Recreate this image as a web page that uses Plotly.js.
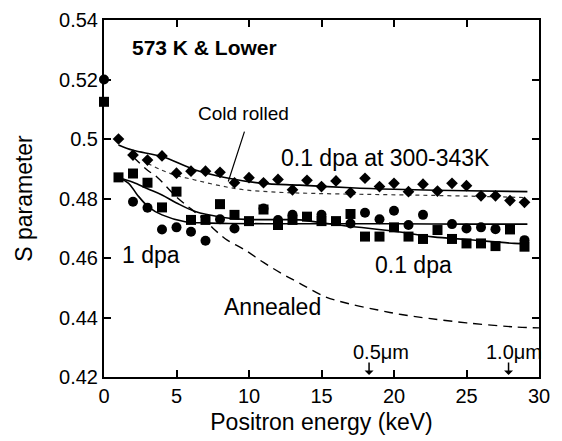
<!DOCTYPE html>
<html>
<head>
<meta charset="utf-8">
<script src="https://cdn.plot.ly/plotly-3.0.1.min.js"></script>
<style>html,body{margin:0;padding:0;background:#fff;}#chart{width:562px;height:441px;}</style>
</head>
<body>
<div id="chart"></div>
<script>
// Diamonds: 0.1 dpa at 300-343K
const diaX = [1,2,3,4,5,6,7,8,9,10,11,12,13,14,15,16,17,18,19,20,21,22,23,24,25,26,27,28,29];
const diaY = [0.500,0.4946,0.4929,0.4943,0.4885,0.4892,0.4892,0.4888,0.4853,0.4870,0.4853,0.4864,0.4829,0.4861,0.4840,0.4859,0.4820,0.4868,0.4840,0.4851,0.4823,0.4848,0.4825,0.4851,0.4843,0.4809,0.4809,0.4793,0.4787];
// Squares: 0.1 dpa
const sqX = [0,1,2,3,4,5,6,7,8,9,10,11,12,13,14,15,16,17,18,19,20,21,22,23,24,25,26,27,28,29];
const sqY = [0.5125,0.4871,0.4884,0.4853,0.4770,0.4823,0.4728,0.4728,0.4781,0.4745,0.4724,0.4763,0.4711,0.4728,0.4739,0.4724,0.4724,0.4748,0.4672,0.4672,0.4703,0.4672,0.4664,0.4694,0.4664,0.4649,0.4649,0.4640,0.4696,0.4638];
// Circles: 1 dpa
const ciX = [0,2,3,4,5,6,7,8,9,11,12,13,15,17,18,19,20,21,22,24,25,26,27,29];
const ciY = [0.520,0.4789,0.4769,0.4696,0.4703,0.4688,0.4658,0.4730,0.4699,0.4766,0.4728,0.4745,0.4745,0.4716,0.4752,0.4730,0.4759,0.4711,0.4745,0.4714,0.4699,0.4703,0.4697,0.4660];
// Fit curves
const fitDiaX = [1,2,4,6.3,8.6,10.9,13.5,17,20,25,29.2];
const fitDiaY = [0.4980,0.4962,0.4941,0.4896,0.4868,0.4851,0.4845,0.4836,0.4831,0.4826,0.4823];
const coldX = [3,4,4.9,6.3,8,9.7,12,14.5,18,22,26,29.2];
const coldY = [0.4918,0.4895,0.4879,0.4862,0.4843,0.4829,0.4821,0.4817,0.4814,0.4811,0.4807,0.4803];
const fitSqX = [1,2,3,4,5,6.3,8,9.7,12,13.5,16,20,22.7,25,28.3,29.2];
const fitSqY = [0.4870,0.4855,0.4833,0.4812,0.4785,0.4756,0.4738,0.4730,0.4729,0.4728,0.4712,0.4690,0.4671,0.4662,0.4649,0.4647];
const fitCiX = [1,1.7,2.3,3.06,4,5.6,7,8.6,12,16,20,25,29.2];
const fitCiY = [0.4870,0.4851,0.4812,0.4772,0.4745,0.4722,0.4718,0.4716,0.4715,0.4715,0.4715,0.4714,0.4714];
const annX = [2,3,3.63,5,6,7,7.65,8.5,9.72,11,12.25,13.5,15.24,17,18.9,20.5,22.4,25,28.1,30];
const annY = [0.4940,0.4895,0.4873,0.4805,0.4765,0.4725,0.4694,0.4660,0.4627,0.4585,0.4548,0.4515,0.4470,0.4445,0.4425,0.4410,0.4397,0.4382,0.4369,0.4365];
// Axis ticks
const xTicks = [0,5,10,15,20,25,30];
const yTicks = [0.42,0.44,0.46,0.48,0.50,0.52,0.54];
const yTickText = ['0.42','0.44','0.46','0.48','0.5','0.52','0.54'];

const F = 'Liberation Sans, Arial, Helvetica, sans-serif';
const line = (x,y,dash,w,c) => ({x:x,y:y,type:'scatter',mode:'lines',line:{color:c||'#000',width:w,dash:dash,shape:'spline'},hoverinfo:'skip',cliponaxis:false});
const traces = [
  line(annX,annY,'9px,6px',1.4),
  line(coldX,coldY,'4px,4px',1.2,'#333'),
  line(fitDiaX,fitDiaY,'solid',1.6),
  line(fitSqX,fitSqY,'solid',1.6),
  line(fitCiX,fitCiY,'solid',1.6),
  {x:diaX,y:diaY,type:'scatter',mode:'markers',marker:{symbol:'diamond',size:9,color:'#000'},cliponaxis:false},
  {x:sqX,y:sqY,type:'scatter',mode:'markers',marker:{symbol:'square',size:10,color:'#000'},cliponaxis:false},
  {x:ciX,y:ciY,type:'scatter',mode:'markers',marker:{symbol:'circle',size:10,color:'#000'},cliponaxis:false}
];
const ax = {showline:true,linecolor:'#000',linewidth:2,mirror:'ticks',ticks:'inside',ticklen:7,tickwidth:2,tickcolor:'#000',showgrid:false,zeroline:false,tickfont:{family:F,size:20,color:'#000'}};
const txt = (t,x,y,size,extra) => Object.assign({text:t,x:x,y:y,xref:'x',yref:'y',showarrow:false,font:{family:F,size:size,color:'#000'}},extra||{});
const layout = {
  width:562,height:441,
  margin:{l:104,r:23,t:20,b:64},
  paper_bgcolor:'#fff',plot_bgcolor:'#fff',
  showlegend:false,
  xaxis:Object.assign({},ax,{range:[0,30],tickvals:xTicks,title:{text:'Positron energy (keV)',font:{family:F,size:23,color:'#000'},standoff:8}}),
  yaxis:Object.assign({},ax,{range:[0.42,0.54],tickvals:yTicks,ticktext:yTickText,title:{text:'S parameter',font:{family:F,size:23,color:'#000'},standoff:20}}),
  annotations:[
    txt('<b>573 K &amp; Lower</b>',1.8,0.5306,21,{xanchor:'left'}),
    txt('Cold rolled',9.62,0.5087,19),
    txt('0.1 dpa at 300-343K',19.4,0.4936,23),
    txt('1 dpa',3.23,0.461,23),
    txt('0.1 dpa',21.33,0.4576,23),
    txt('Annealed',11.62,0.4436,23),
    txt('0.5μm',19.1,0.4285,20),
    txt('1.0μm',28.3,0.4285,20),
    {text:'',x:8.57,y:0.4857,xref:'x',yref:'y',axref:'x',ayref:'y',ax:9.72,ay:0.503,showarrow:true,arrowhead:0,arrowwidth:1.2,arrowcolor:'#000'},
    {text:'',x:18.28,y:0.42,xref:'x',yref:'y',ax:0,ay:-16,showarrow:true,arrowhead:1,arrowsize:1,arrowwidth:1.5,arrowcolor:'#000',standoff:2},
    {text:'',x:27.9,y:0.42,xref:'x',yref:'y',ax:0,ay:-16,showarrow:true,arrowhead:1,arrowsize:1,arrowwidth:1.5,arrowcolor:'#000',standoff:2}
  ]
};
Plotly.newPlot('chart',traces,layout,{displayModeBar:false,staticPlot:true});
</script>
</body>
</html>
